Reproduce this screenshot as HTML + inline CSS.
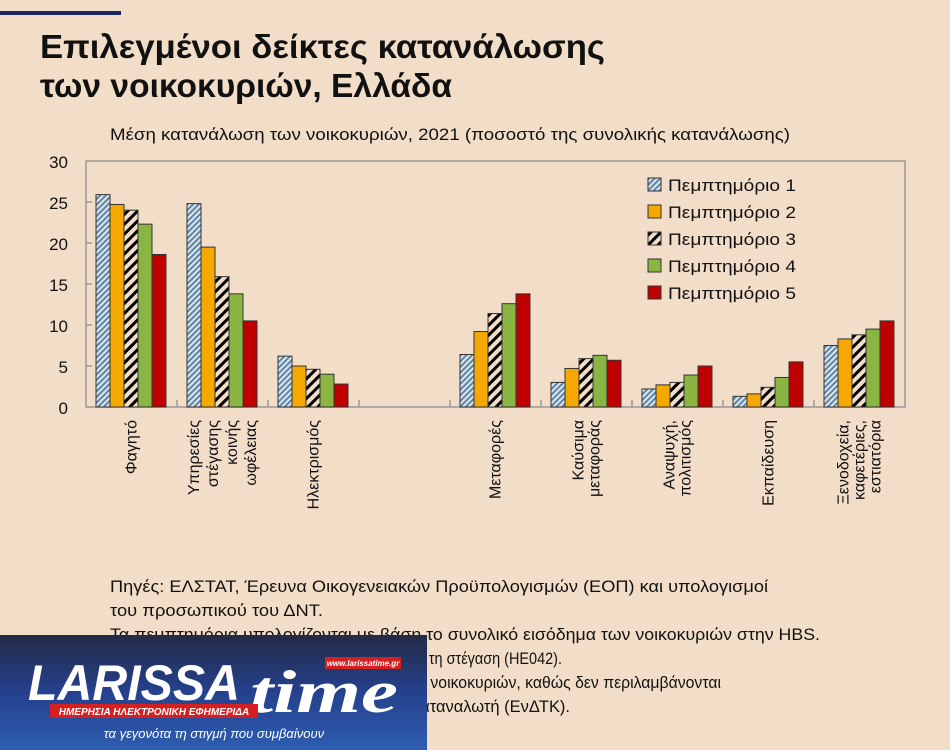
<!DOCTYPE html>
<html><head><meta charset="utf-8"><style>
html,body{margin:0;padding:0;background:#f2ddc9;}
body{width:950px;height:750px;position:relative;overflow:hidden;font-family:"Liberation Sans","DejaVu Sans",sans-serif;}
</style></head><body>
<svg width="950" height="750" viewBox="0 0 950 750" xmlns="http://www.w3.org/2000/svg" style="position:absolute;left:0;top:0">
<defs>
<pattern id="p1" patternUnits="userSpaceOnUse" width="4" height="4" patternTransform="rotate(45)">
<rect width="4" height="4" fill="#dfe6ea"/><rect width="2" height="4" fill="#5b86a8"/></pattern>
<pattern id="p3" patternUnits="userSpaceOnUse" width="7" height="7" patternTransform="rotate(45)">
<rect width="7" height="7" fill="#f2ddc9"/><rect width="3" height="7" fill="#000"/></pattern>
<linearGradient id="lg" x1="0" y1="0" x2="0" y2="1"><stop offset="0" stop-color="#232a45"/><stop offset="0.5" stop-color="#25418e"/><stop offset="1" stop-color="#2e5db0"/></linearGradient>
</defs>
<rect x="0" y="11" width="121" height="4" fill="#1c2560"/>
<text x="40" y="58" font-size="33" font-weight="bold" fill="#111" textLength="565" lengthAdjust="spacingAndGlyphs">Επιλεγμένοι δείκτες κατανάλωσης</text>
<text x="40" y="97" font-size="33" font-weight="bold" fill="#111" textLength="412" lengthAdjust="spacingAndGlyphs">των νοικοκυριών, Ελλάδα</text>
<text x="110" y="140" font-size="17" fill="#111" textLength="680" lengthAdjust="spacingAndGlyphs">Μέση κατανάλωση των νοικοκυριών, 2021 (ποσοστό της συνολικής κατανάλωσης)</text>
<rect x="86" y="161" width="819" height="246" fill="none" stroke="#999" stroke-width="1.5"/>
<g font-size="17" fill="#111" text-anchor="end">
<text x="68" y="168">30</text><text x="68" y="209">25</text><text x="68" y="250">20</text><text x="68" y="291">15</text><text x="68" y="332">10</text><text x="68" y="373">5</text><text x="68" y="414">0</text>
</g>
<g stroke="#999" stroke-width="1.5">
<line x1="86" y1="202" x2="92" y2="202"/><line x1="86" y1="243" x2="92" y2="243"/><line x1="86" y1="284" x2="92" y2="284"/><line x1="86" y1="325" x2="92" y2="325"/><line x1="86" y1="366" x2="92" y2="366"/>
<line x1="177" y1="400" x2="177" y2="407"/><line x1="268" y1="400" x2="268" y2="407"/><line x1="359" y1="400" x2="359" y2="407"/><line x1="450" y1="400" x2="450" y2="407"/><line x1="541" y1="400" x2="541" y2="407"/><line x1="632" y1="400" x2="632" y2="407"/><line x1="723" y1="400" x2="723" y2="407"/><line x1="814" y1="400" x2="814" y2="407"/>
</g>
<g id="bars" stroke="#333" stroke-width="1"></g>
<g font-size="17" fill="#111">
<rect x="648" y="178" width="13" height="13" fill="url(#p1)" stroke="#333"/><text x="668" y="191" textLength="128" lengthAdjust="spacingAndGlyphs">Πεμπτημόριο 1</text>
<rect x="648" y="205" width="13" height="13" fill="#f5a800" stroke="#333"/><text x="668" y="218" textLength="128" lengthAdjust="spacingAndGlyphs">Πεμπτημόριο 2</text>
<rect x="648" y="232" width="13" height="13" fill="url(#p3)" stroke="#333"/><text x="668" y="245" textLength="128" lengthAdjust="spacingAndGlyphs">Πεμπτημόριο 3</text>
<rect x="648" y="259" width="13" height="13" fill="#8bb543" stroke="#333"/><text x="668" y="272" textLength="128" lengthAdjust="spacingAndGlyphs">Πεμπτημόριο 4</text>
<rect x="648" y="286" width="13" height="13" fill="#c00000" stroke="#333"/><text x="668" y="299" textLength="128" lengthAdjust="spacingAndGlyphs">Πεμπτημόριο 5</text>
</g>
<g font-size="16" fill="#111" text-anchor="end" id="labels"></g>
<g font-size="17" fill="#111">
<text x="110" y="592" textLength="658" lengthAdjust="spacingAndGlyphs">Πηγές: ΕΛΣΤΑΤ, Έρευνα Οικογενειακών Προϋπολογισμών (ΕΟΠ) και υπολογισμοί</text>
<text x="110" y="616" textLength="213" lengthAdjust="spacingAndGlyphs">του προσωπικού του ΔΝΤ.</text>
<text x="110" y="640" textLength="710" lengthAdjust="spacingAndGlyphs">Τα πεμπτημόρια υπολογίζονται με βάση το συνολικό εισόδημα των νοικοκυριών στην HBS.</text>
<text x="110" y="664" textLength="452" lengthAdjust="spacingAndGlyphs">Σημ.: Οι υπηρεσίες στέγασης δεν περιλαμβάνουν τη στέγαση (HE042).</text>
<text x="110" y="688" textLength="611" lengthAdjust="spacingAndGlyphs">Οι δαπάνες αφορούν τις τελικές δαπάνες των νοικοκυριών, καθώς δεν περιλαμβάνονται</text>
<text x="110" y="712" textLength="460" lengthAdjust="spacingAndGlyphs">οι επιδοτήσεις από το Ενεργειακό Δίκτυο Καταναλωτή (ΕνΔΤΚ).</text>
</g>
<rect x="0" y="635" width="427" height="115" fill="url(#lg)"/>
<text x="28" y="700" font-size="50" font-weight="bold" font-style="italic" fill="#fff" textLength="212" lengthAdjust="spacingAndGlyphs">LARISSA</text>
<text x="250" y="712" font-size="60" font-weight="bold" font-style="italic" fill="#fff" font-family="Liberation Serif,serif" textLength="148" lengthAdjust="spacingAndGlyphs">time</text>
<rect x="325" y="657" width="76" height="12" fill="#d42020"/>
<text x="363" y="666" font-size="8" font-weight="bold" font-style="italic" fill="#fff" text-anchor="middle">www.larissatime.gr</text>
<rect x="50" y="704" width="208" height="14" fill="#d42020"/>
<text x="154" y="715" font-size="10" font-weight="bold" font-style="italic" fill="#fff" text-anchor="middle">ΗΜΕΡΗΣΙΑ ΗΛΕΚΤΡΟΝΙΚΗ ΕΦΗΜΕΡΙΔΑ</text>
<text x="214" y="738" font-size="13" font-style="italic" fill="#fff" text-anchor="middle">τα γεγονότα τη στιγμή που συμβαίνουν</text>
</svg>
<script>
const data=[[25.9,24.7,24.0,22.3,18.6],[24.8,19.5,15.9,13.8,10.5],[6.2,5.0,4.6,4.0,2.8],null,[6.4,9.2,11.4,12.6,13.8],[3.0,4.7,5.9,6.3,5.7],[2.2,2.7,3.0,3.9,5.0],[1.3,1.6,2.4,3.6,5.5],[7.5,8.3,8.8,9.5,10.5]];
const fills=["url(#p1)","#f5a800","url(#p3)","#8bb543","#c00000"];
const labels=[["Φαγητό"],["Υπηρεσίες","στέγασης","κοινής","ωφέλειας"],["Ηλεκτρισμός"],null,["Μεταφορές"],["Καύσιμα","μεταφοράς"],["Αναψυχή,","πολιτισμός"],["Εκπαίδευση"],["Ξενοδοχεία,","καφετέριες,","εστιατόρια"]];
const ns="http://www.w3.org/2000/svg";let g=document.getElementById("bars"),L=document.getElementById("labels");
data.forEach((d,k)=>{if(!d)return;d.forEach((v,i)=>{let r=document.createElementNS(ns,"rect");let h=v*8.2;r.setAttribute("x",96+91*k+i*14);r.setAttribute("y",407-h);r.setAttribute("width",14);r.setAttribute("height",h);r.setAttribute("fill",fills[i]);g.appendChild(r);});
let ls=labels[k],n=ls.length,c=86+91*k+45.5,sp=n==4?19:16;ls.forEach((t,j)=>{let x=c+(j-(n-1)/2)*sp+5;let e=document.createElementNS(ns,"text");e.setAttribute("transform",`translate(${x},420) rotate(-90)`);e.textContent=t;L.appendChild(e);});});
</script>
</body></html>
